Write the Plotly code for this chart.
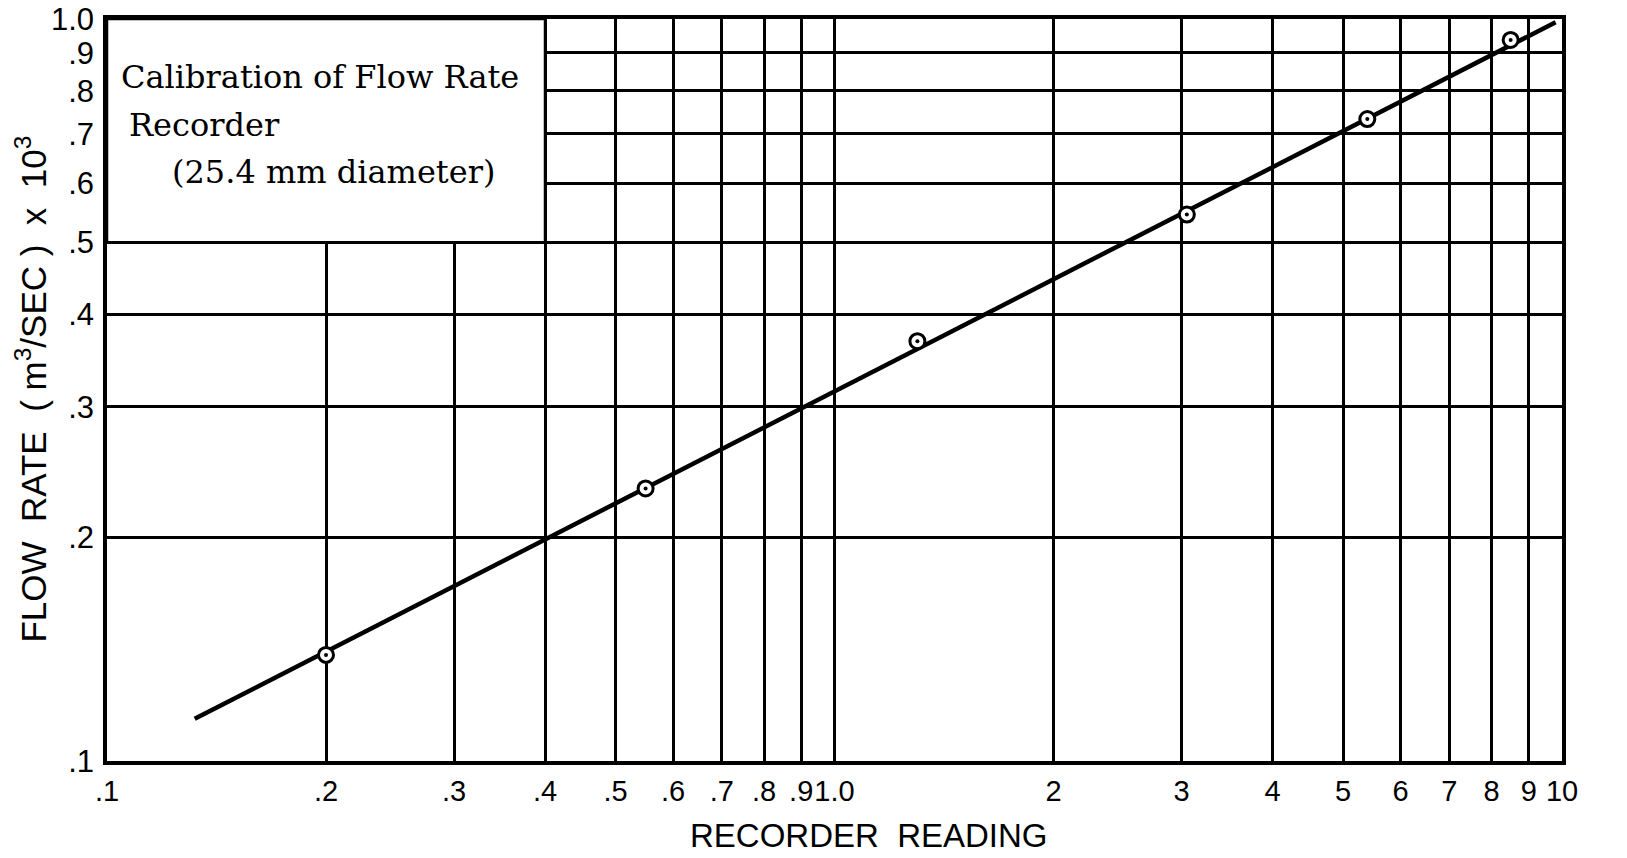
import plotly.graph_objects as go

# Data
reading = [0.2, 0.55, 1.3, 3.05, 5.4, 8.5]
flow = [0.139, 0.233, 0.368, 0.545, 0.733, 0.937]

fit_x = [0.132, 9.8]
fit_y = [0.114, 0.99]

x_ticks = [0.1, 0.2, 0.3, 0.4, 0.5, 0.6, 0.7, 0.8, 0.9, 1.0, 2, 3, 4, 5, 6, 7, 8, 9, 10]
x_labels = [".1", ".2", ".3", ".4", ".5", ".6", ".7", ".8", ".9", "1.0",
            "2", "3", "4", "5", "6", "7", "8", "9", "10"]
y_ticks = [0.1, 0.2, 0.3, 0.4, 0.5, 0.6, 0.7, 0.8, 0.9, 1.0]
y_labels = [".1", ".2", ".3", ".4", ".5", ".6", ".7", ".8", ".9", "1.0"]

title_lines = ["Calibration of Flow Rate", "Recorder", "(25.4 mm diameter)"]
x_title = "RECORDER  READING"
y_title = "FLOW  RATE  ( m<sup>3</sup>/SEC )  x  10<sup>3</sup>"

fig = go.Figure()
fig.add_trace(go.Scatter(x=fit_x, y=fit_y, mode="lines",
                         line=dict(color="black", width=4.5), showlegend=False))
fig.add_trace(go.Scatter(x=reading, y=flow, mode="markers",
                         marker=dict(symbol="circle", size=15, color="white",
                                     line=dict(color="black", width=3)),
                         showlegend=False))
fig.add_trace(go.Scatter(x=reading, y=flow, mode="markers",
                         marker=dict(symbol="circle", size=4, color="black"),
                         showlegend=False))

# blank label box in the upper-left corner
fig.add_shape(type="rect", xref="x", yref="y", x0=0.1, x1=0.4, y0=0.5, y1=1.0,
              fillcolor="white", line=dict(color="black", width=2.5), layer="between")

ann_pos = [(0.008, 0.922), (0.0137, 0.857), (0.043, 0.794)]
for txt, (px, py) in zip(title_lines, ann_pos):
    fig.add_annotation(text=txt, xref="paper", yref="paper", x=px, y=py,
                       xanchor="left", yanchor="middle", showarrow=False,
                       font=dict(family="DejaVu Serif", size=32, color="black"))

fig.add_annotation(text=x_title, xref="paper", yref="paper", x=0.524, y=-0.101,
                   xanchor="center", yanchor="middle", showarrow=False,
                   font=dict(family="Liberation Sans", size=33, color="black"))
fig.add_annotation(text=y_title, xref="paper", yref="paper", x=-0.052, y=0.501,
                   xanchor="center", yanchor="middle", showarrow=False, textangle=-90,
                   font=dict(family="Liberation Sans", size=35, color="black"))

tick_font_x = dict(family="Liberation Sans", size=29, color="black")
tick_font_y = dict(family="Liberation Sans", size=31, color="black")
fig.update_xaxes(type="log", range=[-1, 1], tickvals=x_ticks, ticktext=x_labels,
                 tickangle=0, tickfont=tick_font_x, ticks="", ticklen=0, ticklabelstandoff=1,
                 ticklabeloverflow="allow",
                 showgrid=True, gridcolor="black", gridwidth=2.5, automargin=False,
                 showline=True, linecolor="black", linewidth=3.5, mirror=True)
fig.update_yaxes(type="log", range=[-1, 0], tickvals=y_ticks, ticktext=y_labels,
                 tickfont=tick_font_y, ticks="", ticklen=0, ticklabelstandoff=3,
                 ticklabeloverflow="allow",
                 showgrid=True, gridcolor="black", gridwidth=2.5, automargin=False,
                 showline=True, linecolor="black", linewidth=3.5, mirror=True)
fig.update_layout(width=1627, height=858, plot_bgcolor="white", paper_bgcolor="white",
                  margin=dict(l=107, r=65, t=19, b=97))
fig.write_html("out.html")
